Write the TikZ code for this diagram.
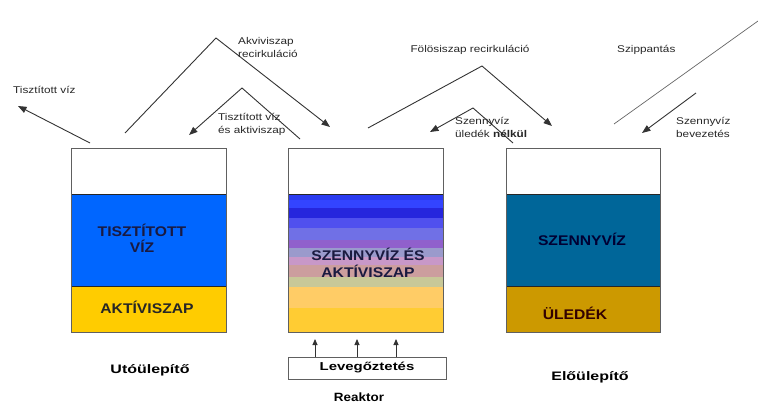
\documentclass[tikz,border=0pt]{standalone}
\usepackage{fontspec}
\setmainfont{Liberation Sans}
\newfontfamily\labfont{Liberation Sans}[FakeStretch=1.2]
\newfontfamily\tankfont{Liberation Sans}[FakeStretch=1.12]
\newfontfamily\capfont{Liberation Sans}[FakeStretch=1.3]
\usetikzlibrary{arrows.meta}
\definecolor{cleanblue}{HTML}{0066FF}
\definecolor{sludgeyel}{HTML}{FFCC00}
\definecolor{rawblue}{HTML}{006699}
\definecolor{sediment}{HTML}{CC9900}
\definecolor{tanktext}{HTML}{1A1A40}
\definecolor{linegray}{HTML}{333333}
\definecolor{bA}{HTML}{2A3BF0}
\definecolor{bB}{HTML}{3344FF}
\definecolor{bC}{HTML}{2626DD}
\definecolor{bD}{HTML}{5050EE}
\definecolor{bE}{HTML}{7070E6}
\definecolor{bF}{HTML}{9060CC}
\definecolor{bG}{HTML}{9A9ACC}
\definecolor{bH}{HTML}{C898C8}
\definecolor{bI}{HTML}{CC9E9E}
\definecolor{bJ}{HTML}{C8C898}
\definecolor{bK}{HTML}{FFCC66}
\definecolor{bL}{HTML}{FFCC33}
\tikzset{
  flow/.style={draw=linegray, line width=0.9pt},
  arr/.style={flow, -{Triangle[length=8.5pt,width=6.5pt]}},
  lab/.style={font=\labfont\fontsize{9.8}{13}\selectfont, align=left, inner sep=0pt, text=black!85},
  tanktxt/.style={font=\tankfont\bfseries\fontsize{14}{16.5}\selectfont, align=center, text=tanktext, inner sep=0pt},
  capt/.style={font=\capfont\bfseries\fontsize{12.3}{14}\selectfont, inner sep=0pt},
  tank/.style={draw=gray!75!black, line width=0.7pt, minimum width=155pt, minimum height=184pt, inner sep=0pt, anchor=north west},
  layer/.style={draw=black!85, line width=0.8pt},
}
\begin{document}
\begin{tikzpicture}[x=1pt, y=-1pt]
\useasboundingbox (0,0) rectangle (758,406);
% ---------- Utóülepítő (left tank)
\fill[cleanblue] (71,194) rectangle (226,286);
\fill[sludgeyel] (71,286) rectangle (226,332);
\draw[layer] (71,194) -- (226,194);
\draw[layer] (71,286) -- (226,286);
\node[tank] (post) at (71,148) {};
\node[tanktxt] (postw) at (142,238.5) {TISZTÍTOTT\\VÍZ};
\node[tanktxt, text=black!85] (posts) at (147,307) {AKTÍVISZAP};
\node[capt] (postcap) at (150,370) {Utóülepítő};
% ---------- Reaktor (middle tank)
\fill[bA] (288,194) rectangle (443,200);
\fill[bB] (288,200) rectangle (443,208);
\fill[bC] (288,208) rectangle (443,218);
\fill[bD] (288,218) rectangle (443,228);
\fill[bE] (288,228) rectangle (443,240);
\fill[bF] (288,240) rectangle (443,248);
\fill[bG] (288,248) rectangle (443,257);
\fill[bH] (288,257) rectangle (443,265);
\fill[bI] (288,265) rectangle (443,277);
\fill[bJ] (288,277) rectangle (443,287);
\fill[bK] (288,287) rectangle (443,308);
\fill[bL] (288,308) rectangle (443,332);
\draw[layer] (288,194) -- (443,194);
\node[tank] (react) at (288,148) {};
\node[tanktxt] (reacttxt) at (368,263) {SZENNYVÍZ ÉS\\AKTÍVISZAP};
\node[draw=gray!75!black, line width=0.7pt, minimum width=158pt, minimum height=22pt, inner sep=0pt,
      font=\capfont\bfseries\fontsize{11.5}{12}\selectfont] (air) at (367,368) {Levegőztetés};
\coordinate (a1) at (315,339);
\coordinate (a2) at (357,339);
\coordinate (a3) at (396,339);
\draw[flow, -{Triangle[length=6pt,width=5pt]}] (a1 |- air.north) -- (a1);
\draw[flow, -{Triangle[length=6pt,width=5pt]}] (a2 |- air.north) -- (a2);
\draw[flow, -{Triangle[length=6pt,width=5pt]}] (a3 |- air.north) -- (a3);
\node[capt, font=\tankfont\bfseries\fontsize{12}{14}\selectfont] (reactcap) at (359,397) {Reaktor};
% ---------- Előülepítő (right tank)
\fill[rawblue] (506,194) rectangle (660,286);
\fill[sediment] (506,286) rectangle (660,332);
\draw[layer] (506,194) -- (660,194);
\draw[layer] (506,286) -- (660,286);
\node[tank, minimum width=154pt] (pre) at (506,148) {};
\node[tanktxt, text=black!80!blue] (pretxt) at (582,239) {SZENNYVÍZ};
\node[tanktxt, text=black!80!red] (presed) at (575,313) {ÜLEDÉK};
\node[capt] (precap) at (590,377) {Előülepítő};
% ---------- flows
\coordinate (t1) at (90,143);
\coordinate (t2) at (18,106);
\draw[arr] (t1) -- (t2);
\node[lab, anchor=west] (tlab) at (13,90) {Tisztított víz};

\coordinate (p1) at (125,133);
\coordinate (p2) at (216,38);
\coordinate (p3) at (330,127);
\draw[arr] (p1) -- (p2) -- (p3);
\node[lab, anchor=west] (plab) at (238,47) {Akviviszap\\recirkuláció};

\coordinate (q1) at (300,139);
\coordinate (q2) at (242,88);
\coordinate (q3) at (189,135);
\draw[arr] (q1) -- (q2) -- (q3);
\node[lab, anchor=west] (qlab) at (218,124) {Tisztított víz\\és aktiviszap};

\coordinate (f1) at (368,128);
\coordinate (f2) at (482,66);
\coordinate (f3) at (552,126);
\draw[arr] (f1) -- (f2) -- (f3);
\node[lab] (flab) at (470,50) {Fölösiszap recirkuláció};

\coordinate (g1) at (513,143);
\coordinate (g2) at (473,108);
\coordinate (g3) at (430,132);
\draw[arr] (g1) -- (g2) -- (g3);
\node[lab, anchor=west] (glab) at (455,127) {Szennyvíz\\üledék \bfseries nélkül};

\coordinate (s1) at (614,124);
\coordinate (s2) at (758,21);
\draw[flow, draw=gray!80!black, line width=0.7pt] (s1) -- (s2);
\node[lab, anchor=west] (slab) at (617,50) {Szippantás};

\coordinate (b1) at (696,93);
\coordinate (b2) at (642,133);
\draw[arr] (b1) -- (b2);
\node[lab, anchor=west] (blab) at (676,127) {Szennyvíz\\bevezetés};
\end{tikzpicture}
\end{document}
